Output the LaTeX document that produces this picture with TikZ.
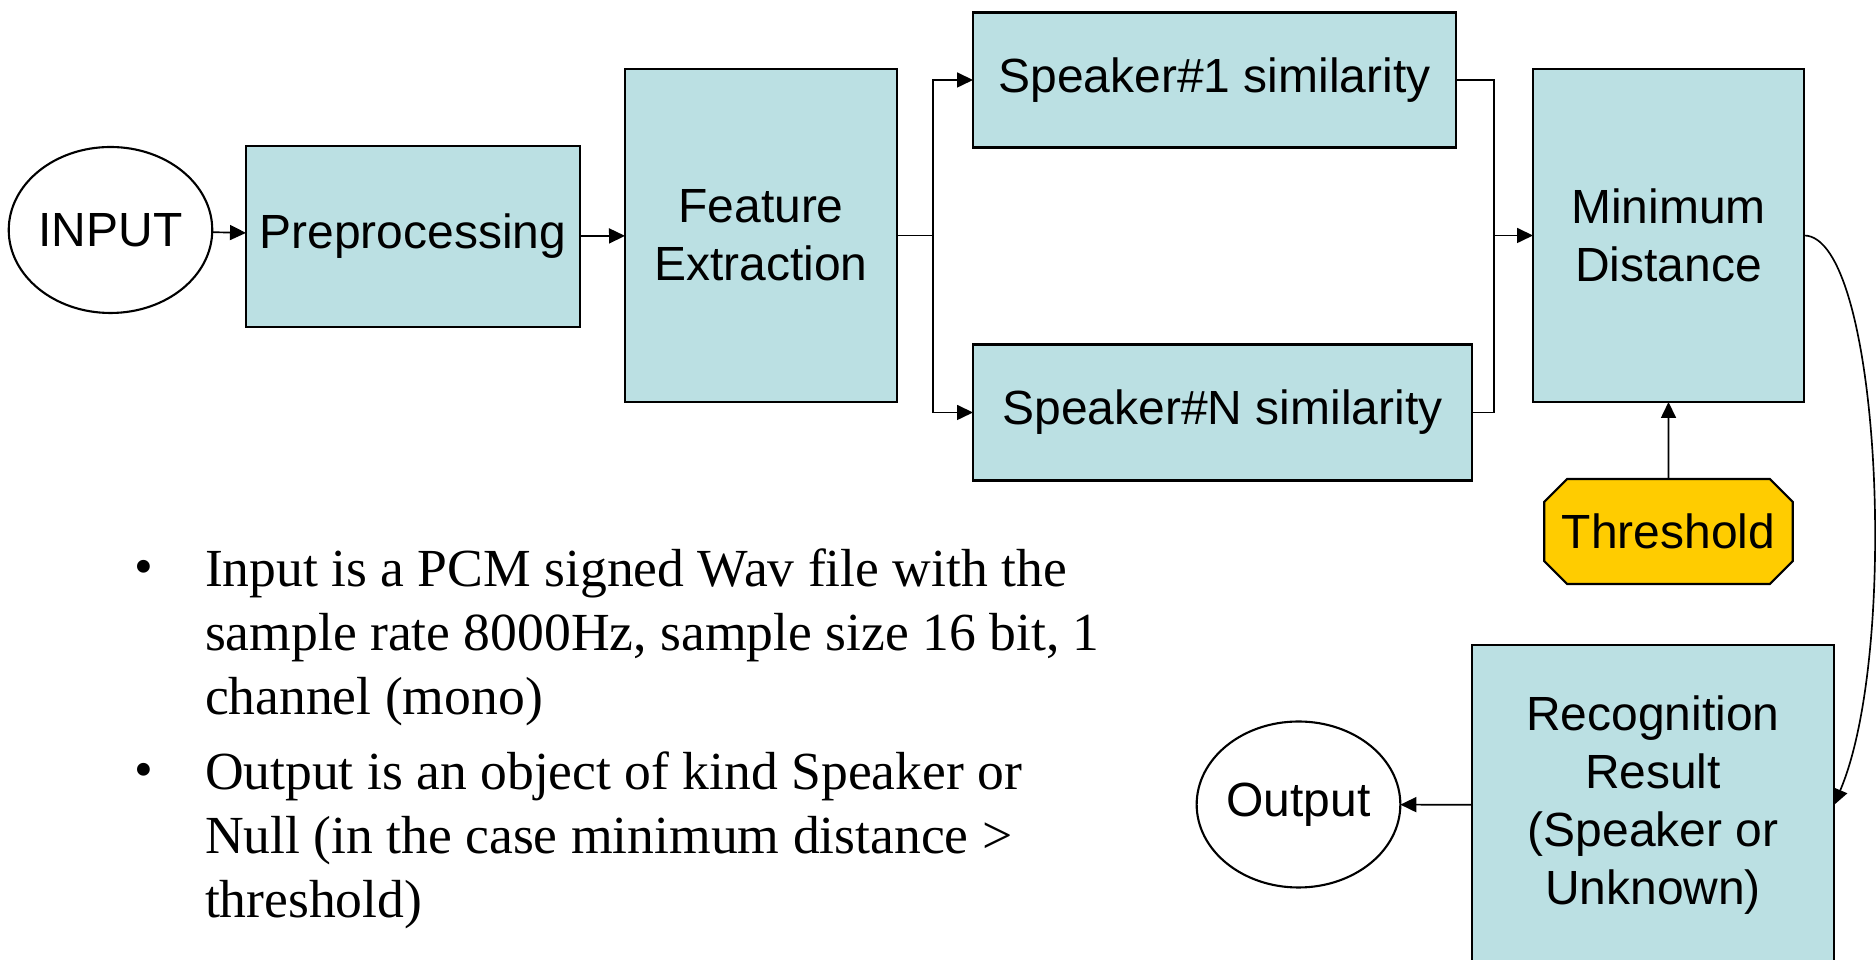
\documentclass[tikz,border=0pt]{standalone}
\usepackage{fontspec}
\setmainfont{Liberation Serif}
\setsansfont{Liberation Sans}
\usetikzlibrary{arrows.meta,shapes.geometric,shapes.misc}
\definecolor{blockfill}{RGB}{187,224,227}
\definecolor{thresfill}{RGB}{255,204,0}
\begin{document}
\begin{tikzpicture}[inner sep=0pt,outer sep=0pt,line width=0.95pt,>={Triangle[length=0.32cm,width=0.3cm]},
font=\sffamily\fontsize{27.3}{33}\selectfont,
procblock/.style={draw,rectangle,fill=blockfill,align=center,very thick},
termblock/.style={draw,ellipse,minimum width=3.94cm,minimum height=3.32cm,very thick},
noteline/.style={font=\rmfamily\fontsize{30.5}{36.4}\selectfont,align=left}]
\useasboundingbox (0,0) rectangle (37.52,19.2);
\draw (2.21,14.6) node[termblock] (input) {INPUT};
\draw (8.26,14.47) node[procblock,minimum width=6.68cm,minimum height=3.62cm] (prep) {Preprocessing};
\draw (15.22,14.49) node[procblock,minimum width=5.44cm,minimum height=6.66cm] (feat) {Feature\\Extraction};
\draw (24.29,17.6) node[procblock,minimum width=9.66cm,minimum height=2.7cm] (spk1) {Speaker\#1 similarity};
\draw (24.45,10.95) node[procblock,minimum width=9.98cm,minimum height=2.72cm] (spkN) {Speaker\#N similarity};
\draw (33.37,14.49) node[procblock,minimum width=5.42cm,minimum height=6.66cm] (mind) {Minimum\\Distance};
\draw (33.37,8.57) node[draw,chamfered rectangle,chamfered rectangle xsep=0.62cm,fill=thresfill,very thick,
  minimum width=4.86cm,minimum height=2.1cm] (thres) {Threshold};
\draw (33.06,3.1) node[procblock,minimum width=7.24cm,minimum height=6.4cm] (recog) {Recognition\\Result\\(Speaker or\\Unknown)};
\draw (25.97,3.11) node[termblock] (output) {Output};
% flow along the top row
\draw[->] (input) -- (prep);
\draw[->] (prep) -- (feat);
\draw (feat.east) -- (18.66,14.49) coordinate (split);
\draw[->] (split) |- (spk1);
\draw[->] (split) |- (spkN);
\draw (spk1) -| (29.88,14.49) coordinate (merge) |- (spkN);
\draw[->] (merge) -- (mind);
\draw[->] (thres) -- (mind);
\draw[->] (mind.east) .. controls (37.6,14.49) and (38.0,6.2) .. (recog.east);
\draw[->] (recog) -- (output);
% notes
\draw (2.68,7.5) node[noteline,anchor=base west] (dot1) {\textbullet};
\draw (4.1,8.23) node[noteline,anchor=north west] (note1) {Input is a PCM signed Wav file with the\\sample rate 8000Hz, sample size 16 bit, 1\\channel (mono)};
\draw (2.68,3.44) node[noteline,anchor=base west] (dot2) {\textbullet};
\draw (4.1,4.17) node[noteline,anchor=north west] (note2) {Output is an object of kind Speaker or\\Null (in the case minimum distance >\\threshold)};
\end{tikzpicture}
\end{document}
